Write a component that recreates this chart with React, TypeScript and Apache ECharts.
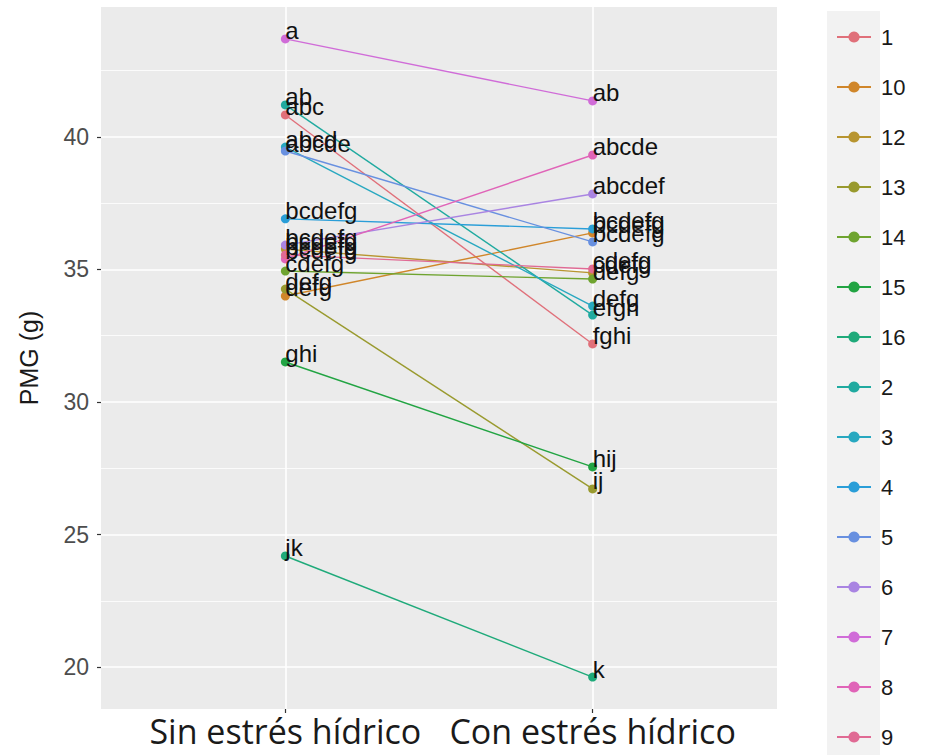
import React, { useEffect, useRef } from "react";
import * as echarts from "echarts";

// Genotypes in factor (legend) order
const genotipos = ["1", "10", "12", "13", "14", "15", "16", "2", "3", "4", "5", "6", "7", "8", "9"];

// Mean thousand-grain weight (g) per genotype under each condition
const sinEstres = [40.83, 34.0, 35.77, 34.26, 34.94, 31.51, 24.19, 41.21, 39.62, 36.91, 39.47, 35.92, 43.7, 35.4, 35.55];
const conEstres = [32.19, 36.38, 34.87, 26.72, 34.64, 27.55, 19.62, 33.28, 33.62, 36.53, 36.04, 37.85, 41.36, 39.32, 35.02];

// Mean-separation letters for each point
const letrasSin = ["abc", "defg", "bcdefg", "defg", "cdefg", "ghi", "jk", "ab", "abcd", "bcdefg", "abcde", "bcdefg", "a", "bcdefg", "bcdefg"];
const letrasCon = ["fghi", "bcdefg", "cdefg", "ij", "defg", "hij", "k", "efgh", "defg", "bcdefg", "bcdefg", "abcdef", "ab", "abcde", "cdefg"];

const condiciones = ["Sin estrés hídrico", "Con estrés hídrico"];

const ticksY = [20, 25, 30, 35, 40];
const ticksYMenores = [22.5, 27.5, 32.5, 37.5, 42.5];

// Hue palette for 15 levels, slightly toned down
const colores = [
  "#E0707A", "#D0862A", "#B89530", "#999A2E", "#6FA430",
  "#22A443", "#1FAA7A", "#20AAA0", "#28A8C0", "#2A9ED8",
  "#6890E0", "#A984E2", "#D06CD8", "#E064B8", "#E06A94",
];

const FONT = "Liberation Sans, Arial, sans-serif";

export default function App() {
  const ref = useRef<HTMLDivElement>(null);

  useEffect(() => {
    if (!ref.current) return;
    const chart = echarts.init(ref.current, null, { renderer: "svg" });

    const todos = [...sinEstres, ...conEstres];
    const lo = Math.min(...todos);
    const hi = Math.max(...todos);
    const pad = (hi - lo) * 0.05;

    const seriesDatos = genotipos.map((g, i) => ({
      name: g,
      type: "line",
      z: 3,
      color: colores[i],
      symbol: "circle",
      symbolSize: 9,
      lineStyle: { width: 1.4, color: colores[i] },
      itemStyle: { color: colores[i] },
      data: [
        [0, sinEstres[i]],
        [1, conEstres[i]],
      ],
      label: {
        show: true,
        position: [4.5, -3.5],
        align: "left",
        verticalAlign: "middle",
        fontFamily: FONT,
        fontSize: 24,
        color: "#111",
        formatter: (p: any) => (p.dataIndex === 0 ? letrasSin[i] : letrasCon[i]),
      },
      emphasis: { disabled: true },
    }));

    // Panel grid lines (major and minor), drawn beneath the data
    const rejilla = {
      type: "line",
      name: "__rejilla",
      z: 1,
      data: [],
      silent: true,
      markLine: {
        z: 1,
        silent: true,
        symbol: "none",
        label: { show: false },
        animation: false,
        data: [
          ...ticksYMenores.map((v) => ({ yAxis: v, lineStyle: { color: "#ffffff", width: 0.8, type: "solid" } })),
          ...ticksY.map((v) => ({ yAxis: v, lineStyle: { color: "#ffffff", width: 1.6, type: "solid" } })),
          ...condiciones.map((_, k) => ({ xAxis: k, lineStyle: { color: "#ffffff", width: 1.6, type: "solid" } })),
        ],
      },
    };

    chart.setOption({
      animation: false,
      backgroundColor: "#ffffff",
      grid: {
        left: 101,
        top: 7,
        right: 157,
        bottom: 46,
        show: true,
        backgroundColor: "#EBEBEB",
        borderWidth: 0,
      },
      xAxis: {
        type: "value",
        min: -0.6,
        max: 1.6,
        axisLine: { show: false, onZero: false },
        splitLine: { show: false },
        axisTick: {
          show: true,
          customValues: [0, 1],
          length: 4,
          lineStyle: { color: "#333333", width: 1.2 },
        },
        axisLabel: {
          customValues: [0, 1],
          formatter: (v: number) => condiciones[Math.round(v)] ?? "",
          fontFamily: "Open Sans, sans-serif",
          fontSize: 34,
          color: "#1a1a1a",
          margin: 5,
        },
      },
      yAxis: {
        type: "value",
        min: lo - pad,
        max: hi + pad,
        name: "PMG (g)",
        nameLocation: "middle",
        nameGap: 60,
        nameTextStyle: { fontFamily: FONT, fontSize: 25, color: "#1a1a1a" },
        axisLine: { show: false, onZero: false },
        splitLine: { show: false },
        axisTick: {
          show: true,
          customValues: ticksY,
          length: 4,
          lineStyle: { color: "#333333", width: 1.2 },
        },
        axisLabel: {
          customValues: ticksY,
          fontFamily: FONT,
          fontSize: 23,
          color: "#4D4D4D",
          margin: 12,
        },
      },
      legend: {
        data: genotipos,
        orient: "vertical",
        left: 836,
        top: 26,
        padding: 0,
        itemWidth: 34,
        itemHeight: 14,
        itemGap: 28,
        selectedMode: false,
        textStyle: {
          fontFamily: FONT,
          fontSize: 22,
          lineHeight: 21,
          color: "#1a1a1a",
          padding: [0, 0, 0, 5],
        },
      },
      graphic: [
        {
          type: "rect",
          z: -1,
          shape: { x: 827, y: 11, width: 53, height: 744 },
          style: { fill: "#F2F2F2" },
          silent: true,
        },
      ],
      series: [rejilla, ...seriesDatos],
    });

    return () => chart.dispose();
  }, []);

  return (
    <div
      ref={ref}
      style={{ position: "absolute", left: 0, top: 0, width: 934, height: 755 }}
    />
  );
}
